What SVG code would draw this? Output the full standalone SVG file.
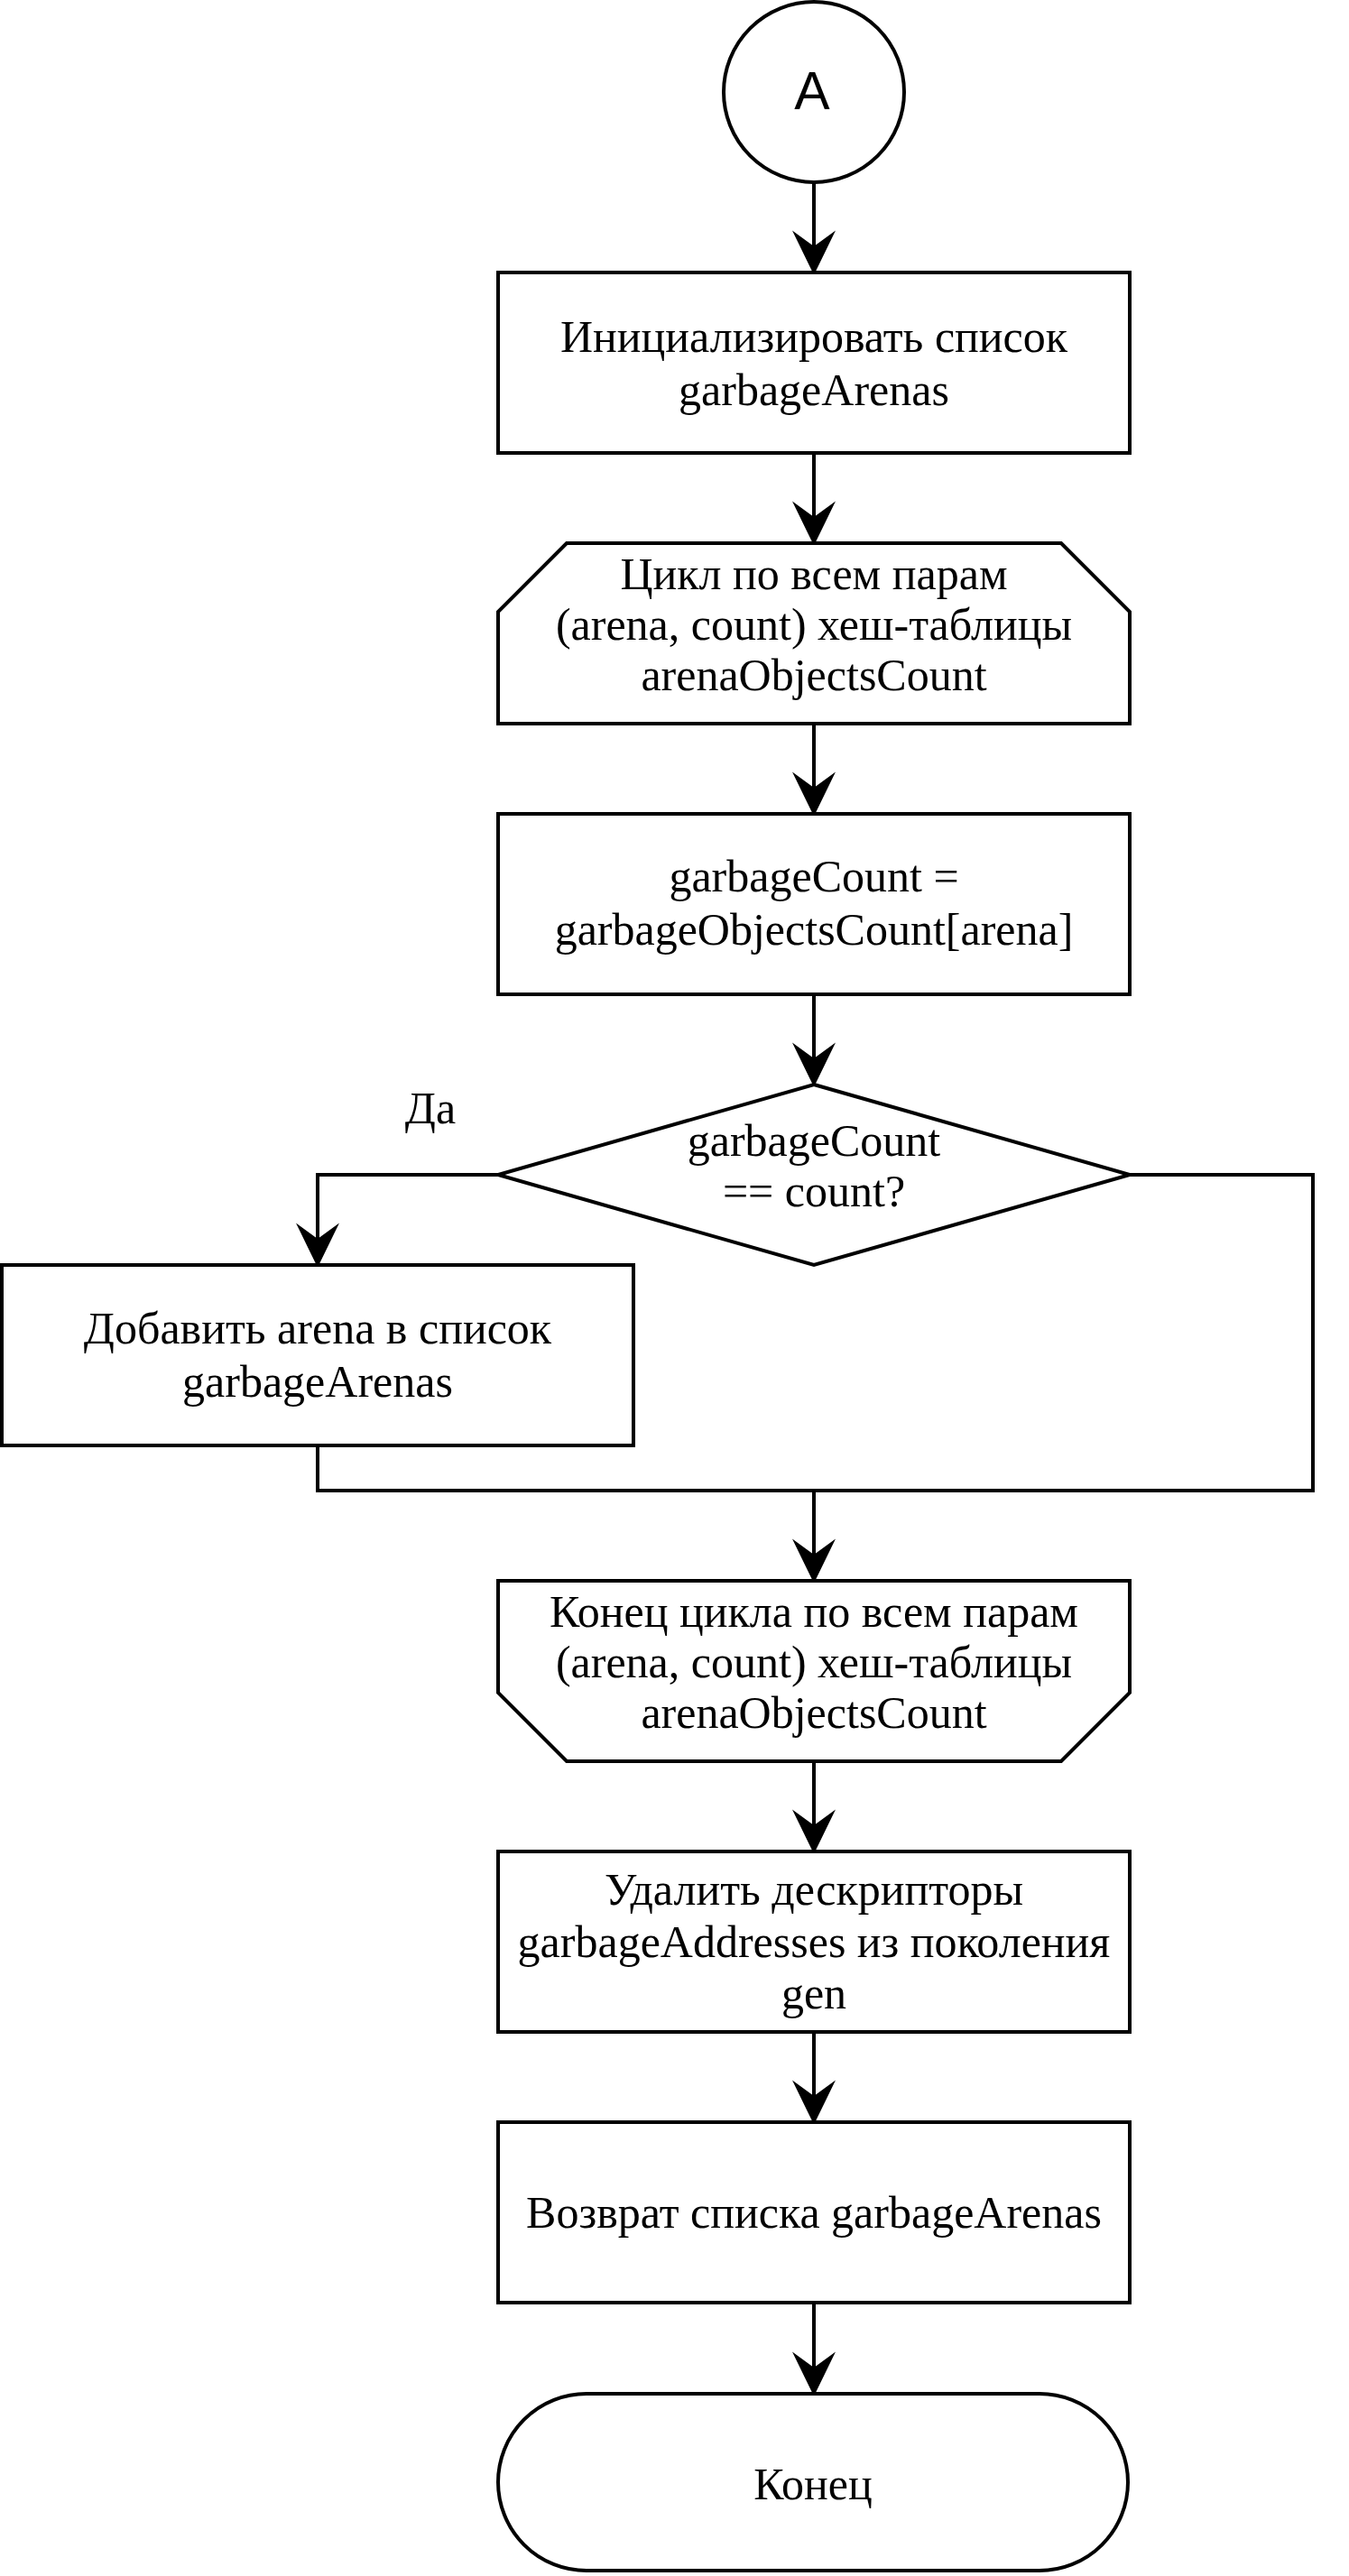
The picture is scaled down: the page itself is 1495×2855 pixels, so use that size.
<svg xmlns="http://www.w3.org/2000/svg" width="1495" height="2855" viewBox="0 0 1495 2855">
  <style>
    .shape { fill: #ffffff; stroke: #000000; stroke-width: 4; }
    .edge { fill: none; stroke: #000000; stroke-width: 4; }
    .lbl { font-family: "Liberation Serif", "Times New Roman", serif; font-size: 50px; fill: #000000; text-anchor: middle; }
    .lbl-sans { font-family: "Liberation Sans", Arial, sans-serif; font-size: 59px; fill: #000000; text-anchor: middle; }
  </style>
  <defs>
    <marker id="arrow" markerUnits="userSpaceOnUse" markerWidth="60" markerHeight="60" viewBox="-20 -25 55 50" refX="0" refY="0" orient="auto">
      <path d="M29,0 L-16,-22 L0,0 L-16,22 Z" fill="#000000"/>
    </marker>
  </defs>

  <rect width="1495" height="2855" fill="#ffffff"/>

  <!-- connectors -->
  <g id="connectors">
    <path class="edge" d="M902,202 V273" marker-end="url(#arrow)"/>
    <path class="edge" d="M902,502 V573" marker-end="url(#arrow)"/>
    <path class="edge" d="M902,802 V873" marker-end="url(#arrow)"/>
    <path class="edge" d="M902,1102 V1173" marker-end="url(#arrow)"/>
    <path class="edge" d="M552,1302 H352 V1373" marker-end="url(#arrow)"/>
    <path class="edge" d="M352,1602 V1652 H1455 V1302 H1252"/>
    <path class="edge" d="M902,1652 V1723" marker-end="url(#arrow)"/>
    <path class="edge" d="M902,1952 V2023" marker-end="url(#arrow)"/>
    <path class="edge" d="M902,2252 V2323" marker-end="url(#arrow)"/>
    <path class="edge" d="M902,2552 V2624" marker-end="url(#arrow)"/>
    <text class="lbl" x="477" y="1245">Да</text>
  </g>

  <!-- connector A -->
  <g id="node-a">
    <circle class="shape" cx="902" cy="102" r="100"/>
    <text class="lbl-sans" x="900" y="121">A</text>
  </g>

  <g id="node-init">
    <rect class="shape" x="552" y="302" width="700" height="200"/>
    <text class="lbl" x="902" y="390">Инициализировать список<tspan x="902" dy="59">garbageArenas</tspan></text>
  </g>

  <g id="node-loop-start">
    <path class="shape" d="M628,602 H1176 L1252,678 V802 H552 V678 Z"/>
    <text class="lbl" x="902" y="653">Цикл по всем парам<tspan x="902" dy="56">(arena, count) хеш-таблицы</tspan><tspan x="902" dy="56">arenaObjectsCount</tspan></text>
  </g>

  <g id="node-garbage-count">
    <rect class="shape" x="552" y="902" width="700" height="200"/>
    <text class="lbl" x="902" y="988">garbageCount =<tspan x="902" dy="59">garbageObjectsCount[arena]</tspan></text>
  </g>

  <g id="node-check">
    <path class="shape" d="M902,1202 L1252,1302 L902,1402 L552,1302 Z"/>
    <text class="lbl" x="902" y="1281">garbageCount<tspan x="902" dy="56">== count?</tspan></text>
  </g>

  <g id="node-add">
    <rect class="shape" x="2" y="1402" width="700" height="200"/>
    <text class="lbl" x="352" y="1489">Добавить arena в список<tspan x="352" dy="59">garbageArenas</tspan></text>
  </g>

  <g id="node-loop-end">
    <path class="shape" d="M552,1752 H1252 V1876 L1176,1952 H628 L552,1876 Z"/>
    <text class="lbl" x="902" y="1803">Конец цикла по всем парам<tspan x="902" dy="56">(arena, count) хеш-таблицы</tspan><tspan x="902" dy="56">arenaObjectsCount</tspan></text>
  </g>

  <g id="node-remove">
    <rect class="shape" x="552" y="2052" width="700" height="200"/>
    <text class="lbl" x="902" y="2111">Удалить дескрипторы<tspan x="902" dy="58">garbageAddresses из поколения</tspan><tspan x="902" dy="57">gen</tspan></text>
  </g>

  <g id="node-return">
    <rect class="shape" x="552" y="2352" width="700" height="200"/>
    <text class="lbl" x="902" y="2469">Возврат списка garbageArenas</text>
  </g>

  <g id="node-end">
    <rect class="shape" x="552" y="2653" width="698" height="196" rx="98" ry="98"/>
    <text class="lbl" x="901" y="2770">Конец</text>
  </g>
</svg>
